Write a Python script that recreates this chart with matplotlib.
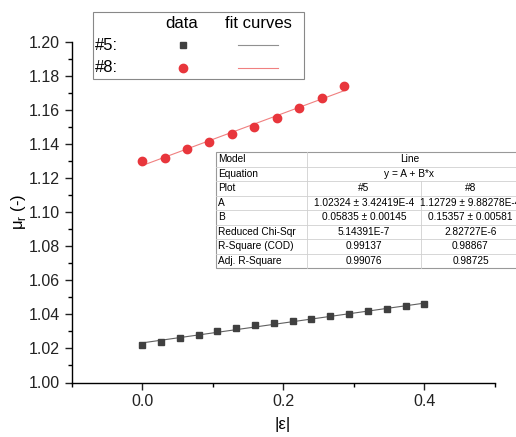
import numpy as np
import matplotlib
matplotlib.use("Agg")
import matplotlib.pyplot as plt
from matplotlib.patches import Rectangle
from matplotlib.ticker import MultipleLocator

plt.rcParams['font.family'] = ['Liberation Sans', 'DejaVu Sans']

# data
x5 = [0.0, 0.0267, 0.0533, 0.08, 0.1067, 0.1333, 0.16, 0.1867,
      0.2133, 0.24, 0.2667, 0.2933, 0.32, 0.3467, 0.3733, 0.4]
y5 = [1.022, 1.024, 1.026, 1.028, 1.030, 1.032, 1.034, 1.035,
      1.036, 1.037, 1.039, 1.040, 1.042, 1.043, 1.045, 1.046]
x8 = [0.0, 0.0318, 0.0636, 0.0954, 0.1272, 0.159, 0.1908, 0.2226, 0.2544, 0.2862]
y8 = [1.130, 1.132, 1.137, 1.141, 1.146, 1.150, 1.155, 1.161, 1.167, 1.174]

# fit parameters (from the fit table)
A5, B5 = 1.02324, 0.05835
A8, B8 = 1.12729, 0.15357

table_rows = [
    ["Model", "Line", None],
    ["Equation", "y = A + B*x", None],
    ["Plot", "#5", "#8"],
    ["A", "1.02324 ± 3.42419E-4", "1.12729 ± 9.88278E-4"],
    ["B", "0.05835 ± 0.00145", "0.15357 ± 0.00581"],
    ["Reduced Chi-Sqr", "5.14391E-7", "2.82727E-6"],
    ["R-Square (COD)", "0.99137", "0.98867"],
    ["Adj. R-Square", "0.99076", "0.98725"],
]

W, H = 516, 437
c_sq = '#404040'
c_red = '#e8363c'
tfs = 7.3

fig = plt.figure(figsize=(W / 100, H / 100), dpi=100)
ax = fig.add_axes([71.5 / W, 1 - 382.5 / H, (495 - 71.5) / W, (382.5 - 41.7) / H])

ax.plot(x5, y5, 's', color=c_sq, ms=5, zorder=3)
ax.plot(x8, y8, 'o', color=c_red, ms=6, zorder=3)
xf5 = np.array([x5[0], x5[-1]])
xf8 = np.array([x8[0], x8[-1]])
ax.plot(xf5, A5 + B5 * xf5, color='#606060', lw=0.8, zorder=2)
ax.plot(xf8, A8 + B8 * xf8, color='#f08080', lw=0.8, zorder=2)

ax.set_xlim(-0.1, 0.5)
ax.set_ylim(1.0, 1.2)
ax.xaxis.set_major_locator(MultipleLocator(0.2))
ax.xaxis.set_minor_locator(MultipleLocator(0.1))
ax.yaxis.set_major_locator(MultipleLocator(0.02))
ax.yaxis.set_minor_locator(MultipleLocator(0.01))
ax.xaxis.set_major_formatter(matplotlib.ticker.FormatStrFormatter('%.1f'))
ax.yaxis.set_major_formatter(matplotlib.ticker.FormatStrFormatter('%.2f'))
for s in ['top', 'right']:
    ax.spines[s].set_visible(False)
for s in ['left', 'bottom']:
    ax.spines[s].set_linewidth(1.0)
ax.tick_params(which='major', direction='out', length=5, width=1, labelsize=11.5, colors='#222222')
ax.tick_params(which='minor', direction='out', length=3, width=1)
ax.tick_params(axis='x', pad=3.5)

fig.text(283 / W, 1 - 425 / H, '|ε|', ha='center', va='center', fontsize=12)
fig.text(18 / W, 1 - 212 / H, r'μ$_\mathregular{r}$ (-)', ha='center', va='center',
         rotation=90, fontsize=12)

# overlay in pixel coordinates for legend box and fit table
ov = fig.add_axes([0, 0, 1, 1], zorder=5)
ov.set_xlim(0, W)
ov.set_ylim(H, 0)
ov.axis('off')

# legend
ov.add_patch(Rectangle((93, 12), 211, 67, fc='white', ec='#888888', lw=0.8))
ov.text(182, 24, 'data', ha='center', va='center', fontsize=12)
ov.text(258, 24, 'fit curves', ha='center', va='center', fontsize=12)
ov.text(95, 46, '#5:', ha='left', va='center', fontsize=12)
ov.text(95, 68, '#8:', ha='left', va='center', fontsize=12)
ov.plot([183], [45], 's', color=c_sq, ms=5)
ov.plot([183], [68], 'o', color=c_red, ms=6)
ov.plot([238, 278], [45, 45], color='#909090', lw=0.8)
ov.plot([238, 278], [68, 68], color='#f08080', lw=0.8)

# fit table
tx0, tx1, tx2, tx3 = 216, 307, 421, 520
ty0, rh = 152, 14.5
nrows = len(table_rows)
ov.add_patch(Rectangle((tx0, ty0), tx3 - tx0, rh * nrows, fc='white', ec='#999999', lw=0.8))
for i, row in enumerate(table_rows):
    yc = ty0 + rh * (i + 0.5)
    if i > 0:
        ov.plot([tx0, tx3], [ty0 + rh * i] * 2, color='#d0d0d0', lw=0.6)
    ov.text(tx0 + 2, yc, row[0], ha='left', va='center', fontsize=tfs)
    if row[2] is None:
        ov.text((tx1 + tx3) / 2 - 4, yc, row[1], ha='center', va='center', fontsize=tfs)
    else:
        ov.text((tx1 + tx2) / 2, yc, row[1], ha='center', va='center', fontsize=tfs)
        ov.text((tx2 + tx3) / 2, yc, row[2], ha='center', va='center', fontsize=tfs)
        ov.plot([tx2, tx2], [ty0 + rh * i, ty0 + rh * (i + 1)], color='#d0d0d0', lw=0.6)
ov.plot([tx1, tx1], [ty0, ty0 + rh * nrows], color='#d0d0d0', lw=0.6)

fig.savefig('out.png', dpi=100)
